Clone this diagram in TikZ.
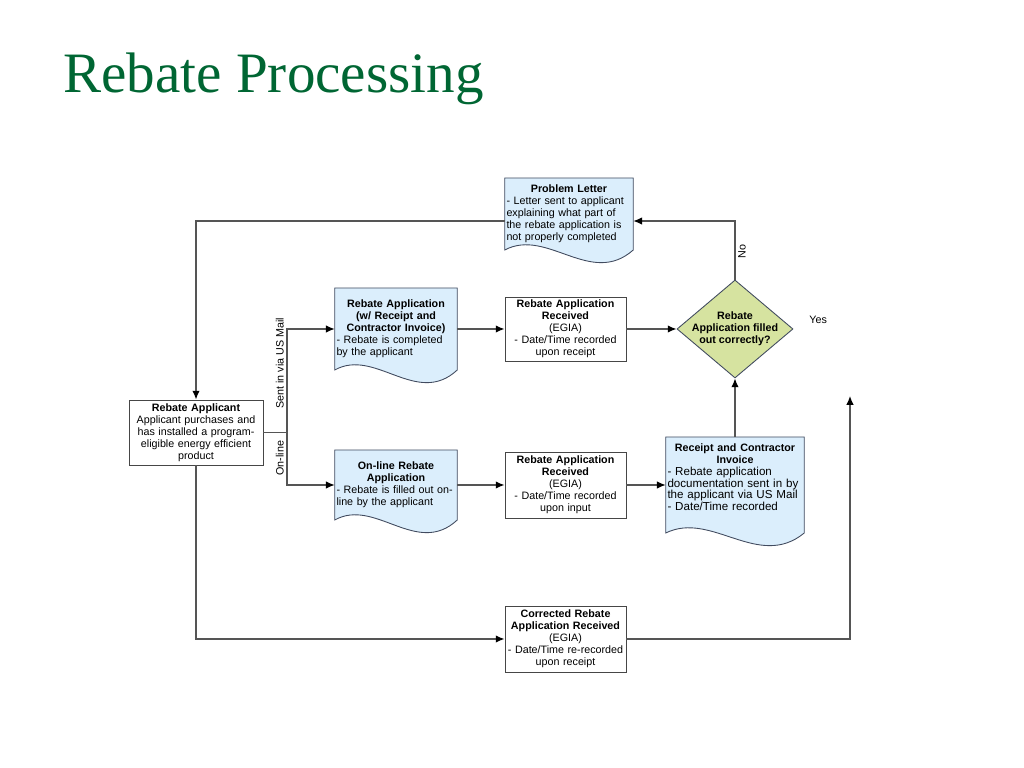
\documentclass[tikz,border=0pt]{standalone}
\usepackage{fontspec}
\setmainfont{Liberation Sans}
\newfontfamily\titlefont{Liberation Serif}
\usepackage{xcolor}
\usepackage{tikz}
\usetikzlibrary{shapes.geometric, arrows.meta, calc, backgrounds}
\definecolor{titlegreen}{RGB}{0,102,51}
\definecolor{docblue}{RGB}{219,238,252}
\definecolor{decgreen}{RGB}{214,227,160}
\definecolor{lineg}{RGB}{85,85,85}
\definecolor{boxedge}{RGB}{70,70,70}
\definecolor{docedge}{RGB}{65,75,95}
\newcommand{\flowfont}{\fontsize{6.1}{6.8}\selectfont}
\newcommand{\bigflowfont}{\fontsize{6.6}{6.7}\selectfont}
\tikzstyle{process} = [rectangle, 
minimum width=2.42cm, 
minimum height=1.28cm, 
text width=2.35cm, 
align=center, 
inner sep=1pt, 
draw=boxedge, line width=0.5pt, 
fill=white, font=\flowfont]
\tikzstyle{startbox} = [process, 
minimum width=2.68cm, 
minimum height=1.30cm, 
text width=2.6cm]
\tikzstyle{document} = [rectangle, 
minimum width=2.44cm, 
text width=2.38cm, 
align=left, 
inner xsep=1pt, inner ysep=0pt, outer sep=0pt, 
font=\flowfont]
\tikzstyle{decision} = [diamond, 
aspect=1.18, 
minimum width=2.32cm, 
minimum height=1.96cm,
inner sep=-2pt, 
align=center, 
draw=docedge, line width=0.5pt, 
fill=decgreen, font=\flowfont\bfseries]
\tikzstyle{docline} = [draw=docedge, line width=0.5pt, fill=docblue]
\tikzstyle{connector} = [line width=0.7pt, draw=lineg]
\tikzstyle{arrow} = [connector, -{Latex[length=5pt,width=4.2pt,color=black]}]
\tikzstyle{lbl} = [font=\flowfont, inner sep=1.5pt]
% document outline with wavy bottom, drawn behind the node text
\newcommand{\docframe}[1]{%
\begin{pgfonlayer}{background}
\draw [docline] (#1.south west) -- (#1.north west) -- (#1.north east) -- (#1.south east)
  .. controls ($(#1.south west)!0.67!(#1.south east)+(0,-0.75cm)$)
  and ($(#1.south west)!0.33!(#1.south east)+(0,0.45cm)$) .. (#1.south west) -- cycle;
\end{pgfonlayer}}

\begin{document}
\begin{tikzpicture}[node distance=3.39cm]
\useasboundingbox (0,0) rectangle (20.48,15.36);
\node (title) [anchor=base west, inner sep=0pt, text=titlegreen, font=\titlefont\fontsize{32.5}{36}\selectfont] at (1.26,13.5) {Rebate Processing};

\node (applicant) [startbox] at (3.92,6.71) {\textbf{Rebate Applicant}\\Applicant purchases and\\has installed a program-\\eligible energy efficient\\product};
\coordinate (split) at (5.74,6.71);

\node (app1) [document, minimum height=1.64cm] at (7.92,8.78) {{\centering\bfseries Rebate Application\\(w/ Receipt and\\Contractor Invoice)\par}- Rebate is completed\\by the applicant};
\node (rec1) [process, right of=app1] {\textbf{Rebate Application}\\\textbf{Received}\\(EGIA)\\- Date/Time recorded\\upon receipt};
\node (dia) [decision, right of=rec1] {Rebate\\Application filled\\out correctly?};
\node (yes) [lbl, anchor=west] at ([xshift=0.26cm,yshift=0.18cm]dia.east) {Yes};
\node (pl) [document, above of=rec1, node distance=2.3cm, xshift=0.07cm, minimum width=2.56cm, text width=2.5cm, minimum height=1.44cm] {{\centering\bfseries Problem Letter\par}- Letter sent to applicant\\explaining what part of\\the rebate application is\\not properly completed};

\node (app2) [document, minimum height=1.40cm] at (7.92,5.66) {{\centering\bfseries On-line Rebate\\Application\par}- Rebate is filled out on-\\line by the applicant};
\node (rec2) [process, right of=app2, minimum height=1.32cm] {\textbf{Rebate Application}\\\textbf{Received}\\(EGIA)\\- Date/Time recorded\\upon input};
\node (receipt) [document, right of=rec2, minimum width=2.74cm, text width=2.7cm, minimum height=1.92cm, font=\bigflowfont] {{\centering\flowfont\bfseries Receipt and Contractor\\Invoice\par}- Rebate application\\documentation sent in by\\the applicant via US Mail\\- Date/Time recorded\par\vspace{2pt}\mbox{}};
\node (corrected) [process, below of=rec2, node distance=3.08cm, minimum height=1.32cm] {\textbf{Corrected Rebate}\\\textbf{Application Received}\\(EGIA)\\- Date/Time re-recorded\\upon receipt};
\coordinate (back) at (17.0,7.44);

\docframe{pl}
\docframe{app1}
\docframe{app2}
\docframe{receipt}

\draw [connector] (applicant.east) -- (split);
\draw [arrow] (split) |- node[lbl, pos=0.335, rotate=90, anchor=south] {Sent in via US Mail} (app1.west);
\draw [arrow] (split) |- node[lbl, pos=0.245, rotate=90, anchor=south] {On-line} (app2.west);
\draw [arrow] (app1.east) -- (rec1.west);
\draw [arrow] (rec1.east) -- (dia.west);
\draw [arrow] (app2.east) -- (rec2.west);
\draw [arrow] (rec2.east) -- (receipt.west);
\draw [arrow] (receipt.north) -- (dia.south);
\draw [arrow] (dia.north) |- node[lbl, pos=0.24, rotate=90, anchor=north] {No} ([yshift=-4pt]pl.east);
\draw [arrow] ([yshift=-4pt]pl.west) -| (applicant.north);
\draw [arrow] (applicant.south) |- (corrected.west);
\draw [arrow] (corrected.east) -| (back);
\end{tikzpicture}
\end{document}
